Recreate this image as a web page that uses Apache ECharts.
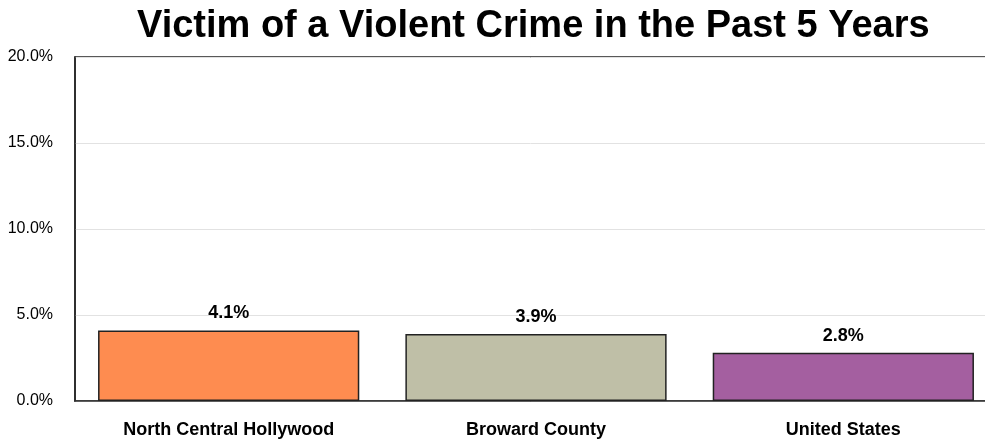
<!DOCTYPE html>
<html>
<head>
<meta charset="utf-8">
<script src="https://cdn.jsdelivr.net/npm/echarts@6/dist/echarts.min.js"></script>
<style>html,body{margin:0;padding:0;background:#fff;}#chart{width:985px;height:441px;}</style>
</head>
<body>
<div id="chart"></div>
<script>
const categories = ['North Central Hollywood', 'Broward County', 'United States'];
const values = [4.1, 3.9, 2.8];
const barColors = ['#FE8C50', '#BFBFA7', '#A45FA0'];
const yTicks = [0, 5, 10, 15, 20];

const chart = echarts.init(document.getElementById('chart'), null, {renderer: 'canvas'});
chart.setOption({
  animation: false,
  backgroundColor: '#ffffff',
  title: {
    text: 'Victim of a Violent Crime in the Past 5 Years',
    left: 132,
    top: 3,
    textStyle: {fontFamily: 'Liberation Sans', fontWeight: 'bold', fontSize: 38, color: '#000'}
  },
  grid: {left: 75, width: 922, top: 57, height: 344, show: true, borderColor: '#222', borderWidth: 1.5, containLabel: false, outerBoundsMode: 'none'},
  xAxis: {
    type: 'category',
    data: categories,
    axisLine: {lineStyle: {color: '#333', width: 1.5}},
    axisTick: {show: false},
    axisLabel: {fontFamily: 'Liberation Sans', fontWeight: 'bold', fontSize: 18, color: '#000', margin: 20}
  },
  yAxis: {
    type: 'value',
    min: yTicks[0],
    max: yTicks[yTicks.length - 1],
    interval: 5,
    axisLine: {show: true, lineStyle: {color: '#222', width: 1.5}},
    axisTick: {show: false},
    splitLine: {lineStyle: {color: '#e2e2e2', width: 1}},
    axisLabel: {fontFamily: 'Liberation Sans', fontSize: 16, color: '#000', margin: 22, formatter: v => v.toFixed(1) + '%'}
  },
  series: [{
    type: 'bar',
    data: values.map((v, i) => ({value: v, itemStyle: {color: barColors[i]}})),
    barCategoryGap: '15%',
    itemStyle: {borderColor: '#222', borderWidth: 1.5},
    label: {show: true, position: 'top', distance: 8, fontFamily: 'Liberation Sans', fontWeight: 'bold', fontSize: 18, color: '#000', formatter: p => p.value.toFixed(1) + '%'}
  }]
});
</script>
</body>
</html>
